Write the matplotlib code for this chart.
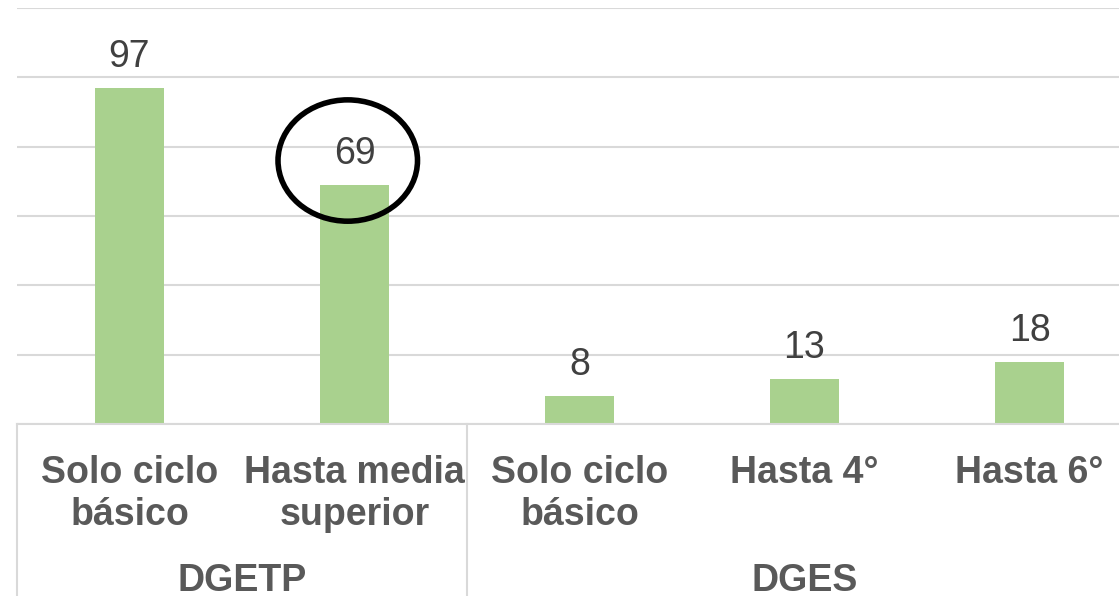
import matplotlib.pyplot as plt
from matplotlib.patches import Ellipse
from matplotlib.transforms import blended_transform_factory

plt.rcParams['font.family'] = ['Liberation Sans', 'DejaVu Sans']

categories = ["Solo ciclo\nbásico", "Hasta media\nsuperior", "Solo ciclo\nbásico", "Hasta 4°", "Hasta 6°"]
values = [97, 69, 8, 13, 18]
groups = ["DGETP", "DGES"]
group_sizes = [2, 3]
highlight = 1  # circled bar

bar_color = "#A9D18E"
grid_color = "#D9D9D9"
label_color = "#595959"
value_color = "#404040"

fig = plt.figure(figsize=(11.19, 5.96), dpi=100)
ax = fig.add_axes([17 / 1119, 172 / 596, 1125 / 1119, 416 / 596])

x = range(len(values))
bars = ax.bar(x, values, width=0.31, color=bar_color, zorder=2)
ax.set_xlim(-0.5, len(values) - 0.5)
ax.set_ylim(0, 120)
ax.set_yticks(range(0, 121, 20))
ax.yaxis.grid(True, color=grid_color, linewidth=1.5, zorder=0)
ax.tick_params(left=False, labelleft=False, bottom=False, labelbottom=False)
for s in ["top", "right", "left"]:
    ax.spines[s].set_visible(False)
ax.spines["bottom"].set_color(grid_color)
ax.spines["bottom"].set_linewidth(1.5)

for i, v in enumerate(values):
    ax.annotate(str(v), xy=(i, v), xytext=(0, 13), textcoords="offset pixels",
                ha="center", va="bottom", fontsize=27, color=value_color)

# category labels
for i, c in enumerate(categories):
    ax.annotate(c, xy=(i, 0), xycoords=("data", "axes fraction"), xytext=(0, -31),
                textcoords="offset pixels", ha="center", va="top", fontsize=27,
                fontweight="bold", color=label_color, linespacing=1.2)

# group labels and separators
trans = blended_transform_factory(ax.transData, ax.transAxes)
start = -0.5
for g, n in zip(groups, group_sizes):
    ax.plot([start, start], [0, -0.5], transform=trans, color=grid_color,
            linewidth=1.5, clip_on=False)
    center = start + n / 2
    ax.annotate(g, xy=(center, 0), xycoords=("data", "axes fraction"), xytext=(0, -139),
                textcoords="offset pixels", ha="center", va="top", fontsize=27,
                fontweight="bold", color=label_color)
    start += n
ax.plot([start, start], [0, -0.5], transform=trans, color=grid_color,
        linewidth=1.5, clip_on=False)

# circle around the highlighted value
ell = Ellipse((highlight - 0.03, values[highlight] + 7), width=0.62, height=35,
              fill=False, edgecolor="black", linewidth=4, zorder=5)
ax.add_patch(ell)

fig.savefig("out.png", dpi=100)
